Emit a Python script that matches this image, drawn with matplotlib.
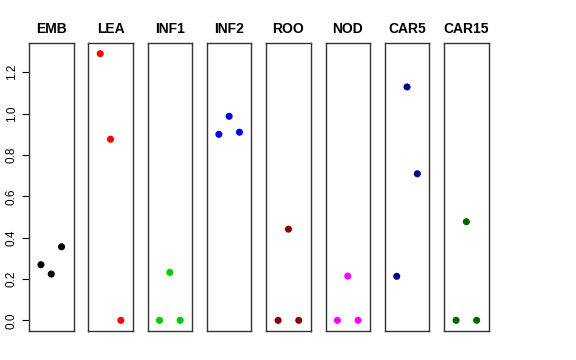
import matplotlib
matplotlib.use("Agg")
import matplotlib.pyplot as plt

categories = ["EMB", "LEA", "INF1", "INF2", "ROO", "NOD", "CAR5", "CAR15"]
values = {
    "EMB": [0.269, 0.224, 0.356],
    "LEA": [1.290, 0.876, 0.0],
    "INF1": [0.0, 0.232, 0.0],
    "INF2": [0.900, 0.987, 0.910],
    "ROO": [0.0, 0.441, 0.0],
    "NOD": [0.0, 0.214, 0.0],
    "CAR5": [0.213, 1.129, 0.709],
    "CAR15": [0.0, 0.477, 0.0],
}
colors = ["#000000", "#FF0000", "#00CD00", "#0000FF", "#8B0000", "#FF00FF", "#00008B", "#006400"]
yticks = [0.0, 0.2, 0.4, 0.6, 0.8, 1.0, 1.2]

plt.rcParams['font.family'] = ['Liberation Sans', 'DejaVu Sans']

W, H = 576, 360
fig = plt.figure(figsize=(W / 100, H / 100), dpi=100)

ymax = max(max(v) for v in values.values())
ypad = 0.04 * ymax
left0, step, width = 29, 59.3, 44.5
top, bottom = 43, 331

for i, (cat, col) in enumerate(zip(categories, colors)):
    l = left0 + i * step
    ax = fig.add_axes([l / W, 1 - bottom / H, width / W, (bottom - top) / H])
    ys = values[cat]
    xs = list(range(1, len(ys) + 1))
    ax.scatter(xs, ys, s=26, color=col, edgecolors='none', zorder=3)
    ax.set_xlim(-0.16, 4.16)
    ax.set_ylim(-ypad, ymax + ypad)
    ax.set_xticks([])
    for sp in ax.spines.values():
        sp.set_linewidth(1.0)
        sp.set_color('#333333')
    ax.set_title(cat, fontsize=10, fontweight='bold', pad=7)
    if i == 0:
        ax.set_yticks(yticks)
        ax.set_yticklabels([f"{t:.1f}" for t in yticks], rotation=90, va='center', fontsize=8.5)
        ax.tick_params(axis='y', length=5, width=0.8, pad=3)
    else:
        ax.set_yticks([])

fig.savefig("out.png", dpi=100)
